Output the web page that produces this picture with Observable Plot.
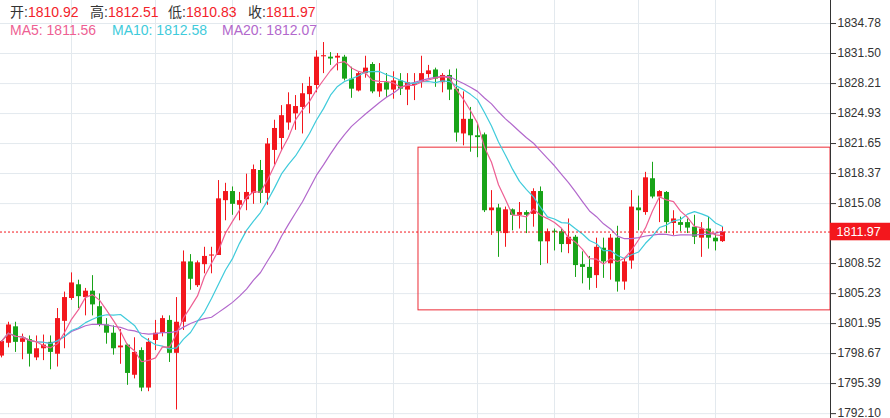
<!DOCTYPE html>
<html><head><meta charset="utf-8">
<script src="https://cdn.jsdelivr.net/npm/d3@7"></script>
<script src="https://cdn.jsdelivr.net/npm/@observablehq/plot@0.6"></script>
<style>
body{margin:0;background:#fff;}
#wrap{position:relative;width:890px;height:418px;overflow:hidden;font-family:"Liberation Sans","Noto Sans CJK SC",sans-serif;}
#wrap svg{position:absolute;left:0;top:0;}
.hd{position:absolute;font-size:14px;white-space:nowrap;line-height:16px;}
</style></head><body><div id="wrap"></div>
<script>
// ---- data ----
const open = [
1798.4,1799.8,1801.6,1799.9,1800.2,1798.2,1799.2,1799.9,1798.6,1802.2,
1804.7,1806.2,1804.8,1805.5,1803.8,1801.8,1800.9,1799.3,1799.6,1796.3,
1799.0,1794.9,1800.1,1800.9,1802.3,1798.7,1802.1,1808.7,1806.1,1808.4,
1809.3,1809.4,1815.4,1816.4,1814.9,1815.5,1816.2,1818.7,1816.2,1820.9,
1822.2,1823.9,1824.9,1825.6,1827.0,1828.0,1831.1,1831.1,1831.0,1831.1,
1828.7,1827.4,1829.3,1830.3,1827.3,1828.3,1827.5,1828.5,1827.5,1828.0,
1828.4,1829.2,1829.7,1828.3,1829.1,1827.6,1822.7,1824.3,1822.5,1822.6,
1814.3,1814.6,1811.8,1814.4,1813.8,1814.1,1813.9,1816.4,1810.9,1812.1,
1812.0,1810.6,1811.4,1808.4,1808.1,1807.2,1810.2,1808.5,1811.3,1806.5,
1808.8,1814.6,1814.1,1817.8,1815.8,1816.3,1812.9,1813.0,1813.0,1812.5,
1811.3,1812.3,1811.3,1810.92];
const close = [
1800.0,1801.8,1799.9,1800.3,1798.6,1799.2,1799.6,1798.8,1802.5,1804.8,
1806.4,1804.9,1805.5,1804.0,1801.8,1800.9,1799.2,1799.5,1796.5,1798.8,
1794.9,1799.9,1800.9,1802.5,1798.7,1802.1,1808.7,1806.8,1808.6,1809.3,
1809.4,1815.6,1816.4,1815.0,1815.4,1816.3,1818.8,1816.2,1821.6,1823.3,
1824.7,1825.9,1825.7,1827.1,1827.9,1831.1,1831.2,1830.9,1831.2,1828.7,
1827.6,1829.3,1829.9,1827.3,1828.2,1827.5,1828.5,1827.6,1828.3,1828.2,
1829.3,1829.6,1828.7,1829.1,1827.5,1822.8,1824.3,1822.5,1822.3,1814.3,
1814.6,1812.0,1814.4,1813.8,1814.1,1813.8,1816.4,1810.9,1812.0,1812.0,
1810.6,1811.4,1808.3,1808.1,1806.9,1810.3,1808.7,1811.3,1806.5,1808.7,
1814.7,1814.3,1817.9,1815.8,1816.4,1813.0,1813.4,1812.7,1812.4,1811.4,
1812.3,1811.3,1810.9,1811.97];
const high = [
1800.1,1802.1,1802.1,1800.8,1800.6,1800.6,1800.7,1800.6,1803.6,1805.4,
1807.5,1806.7,1805.8,1807.2,1805.2,1802.5,1801.7,1801.3,1799.7,1800.4,
1799.3,1800.3,1802.3,1802.8,1802.8,1804.8,1809.9,1809.5,1808.8,1810.3,
1810.3,1817.6,1817.3,1816.9,1816.3,1818.3,1819.3,1819.8,1822.2,1824.2,
1825.8,1827.2,1826.9,1828.2,1828.9,1831.8,1832.7,1831.6,1831.5,1831.3,
1830.0,1829.5,1831.2,1830.5,1830.4,1829.3,1829.5,1829.3,1829.3,1829.3,
1831.2,1830.2,1829.9,1829.3,1829.7,1829.8,1827.3,1825.6,1823.8,1822.8,
1816.5,1815.0,1814.7,1814.5,1815.2,1814.3,1816.7,1816.9,1812.3,1812.3,
1812.3,1813.4,1811.6,1809.8,1809.3,1811.3,1811.3,1811.7,1812.6,1809.0,
1816.5,1815.9,1818.5,1819.6,1816.5,1816.4,1814.3,1813.6,1813.4,1813.8,
1813.0,1813.6,1811.8,1812.51];
const low = [
1798.2,1799.3,1798.8,1798.0,1797.2,1797.9,1797.9,1796.9,1797.2,1799.2,
1804.5,1803.6,1802.8,1802.8,1801.6,1799.7,1798.5,1797.5,1795.2,1795.9,
1794.5,1794.5,1799.0,1800.5,1797.7,1792.5,1801.2,1805.6,1805.9,1807.4,
1807.4,1809.4,1813.2,1813.8,1813.2,1814.3,1815.0,1815.1,1814.9,1819.3,
1820.9,1823.1,1823.1,1822.7,1824.9,1827.2,1829.3,1830.2,1829.6,1828.5,
1826.6,1827.3,1828.8,1827.1,1826.7,1826.7,1826.5,1826.9,1825.8,1826.35,
1827.7,1828.8,1827.8,1827.2,1826.35,1821.8,1821.4,1820.7,1820.1,1814.1,
1811.6,1809.2,1810.3,1812.1,1812.3,1811.8,1812.5,1808.3,1808.5,1809.9,
1809.7,1809.6,1807.0,1806.3,1805.6,1805.8,1806.9,1806.7,1805.4,1805.6,
1807.9,1812.1,1813.8,1815.6,1813.0,1811.8,1811.6,1812.0,1811.8,1810.6,
1809.2,1810.1,1809.9,1810.83];
const yTicks = [1834.78,1831.50,1828.21,1824.93,1821.65,1818.37,1815.08,1808.52,1805.23,1801.95,1798.67,1795.39,1792.10];
const vGrid = [10,22,33,45,56,68,79,91,102];           // candle indices of vertical grid lines
const box = [{x1:59.57, x2:118.43, y1:1803.4, y2:1821.2}]; // highlighted range
const ohlcLabels = ["开","高","低","收"];
const ohlcValues = ["1810.92","1812.51","1810.83","1811.97"];
const maNames = ["MA5","MA10","MA20"];
const maValues = ["1811.56","1812.58","1812.07"];
const maPeriods = [5,10,20];

// ---- chart ----
const UP = "#f3171d", DOWN = "#18a318";
const MA_COLORS = ["#ee5f93","#3fcbdb","#b268cc"];
const data = open.map((o,i)=>({i, open:o, high:high[i], low:low[i], close:close[i], col: close[i]>=o ? UP : DOWN}));
const xMin = -1/7, xMax = 829/7, xOut = 889/7;
const last = data[data.length-1];

const chart = Plot.plot({
  width: 890, height: 418,
  marginLeft: 0, marginRight: 60, marginTop: 0, marginBottom: 0,
  style: {fontFamily: '"Liberation Sans", sans-serif', fontSize: "12px", color: "#333", background: "transparent", overflow: "visible"},
  x: {domain: [xMin, xMax], axis: null},
  y: {domain: [1791.57, 1837.30], axis: "right", ticks: yTicks, tickFormat: d => d.toFixed(2), tickSize: 5, tickPadding: 2, label: null},
  marks: [
    Plot.ruleY(yTicks, {x1: xMin, x2: xMax, stroke: "#e3e9ee"}),
    Plot.ruleX(vGrid, {stroke: "#e3e9ee"}),
    Plot.rect(box, {x1: "x1", x2: "x2", y1: "y1", y2: "y2", fill: "none", stroke: "#ec2b36", strokeWidth: 1}),
    Plot.ruleX(data, {x: "i", y1: "low", y2: "high", stroke: "col", strokeWidth: 1}),
    Plot.ruleX(data, {x: "i",
      y1: d => Math.abs(d.close - d.open) < 0.12 ? d.close - 0.06 : d.open,
      y2: d => Math.abs(d.close - d.open) < 0.12 ? d.close + 0.06 : d.close,
      stroke: "col", strokeWidth: 5}),
    ...maPeriods.map((k, j) => Plot.lineY(data, Plot.windowY({k, anchor: "end"}, {x: "i", y: "close", stroke: MA_COLORS[j], strokeWidth: 1.2}))).reverse(),
    Plot.ruleY([last.close], {x1: xMin, x2: xMax, stroke: UP, strokeDasharray: "2,2"}),
    Plot.ruleX([xMax], {stroke: "#333"}),
    Plot.rect([last], {x1: xMax, x2: xOut, y1: d => d.close - 0.96, y2: d => d.close + 0.96, fill: "#f3171d"}),
    Plot.text([last], {x: xMax, y: "close", text: d => d.close.toFixed(2), textAnchor: "start", dx: 6, fill: "#fff", fontSize: 12.5})
  ]
});
const wrap = document.getElementById("wrap");
wrap.appendChild(chart);

// header
const ohlcLeft = [10, 90, 168, 248];
ohlcLabels.forEach((lab, j) => {
  const d = document.createElement("div");
  d.className = "hd";
  d.style.left = ohlcLeft[j] + "px"; d.style.top = "4px";
  d.innerHTML = `<span style="color:#333">${lab}:</span><span style="color:#f3222a">${ohlcValues[j]}</span>`;
  wrap.appendChild(d);
});
const maLeft = [10, 112, 222];
maNames.forEach((n, j) => {
  const d = document.createElement("div");
  d.className = "hd";
  d.style.left = maLeft[j] + "px"; d.style.top = "22px";
  d.style.color = MA_COLORS[j];
  d.textContent = `${n}: ${maValues[j]}`;
  wrap.appendChild(d);
});
</script>
</body></html>
